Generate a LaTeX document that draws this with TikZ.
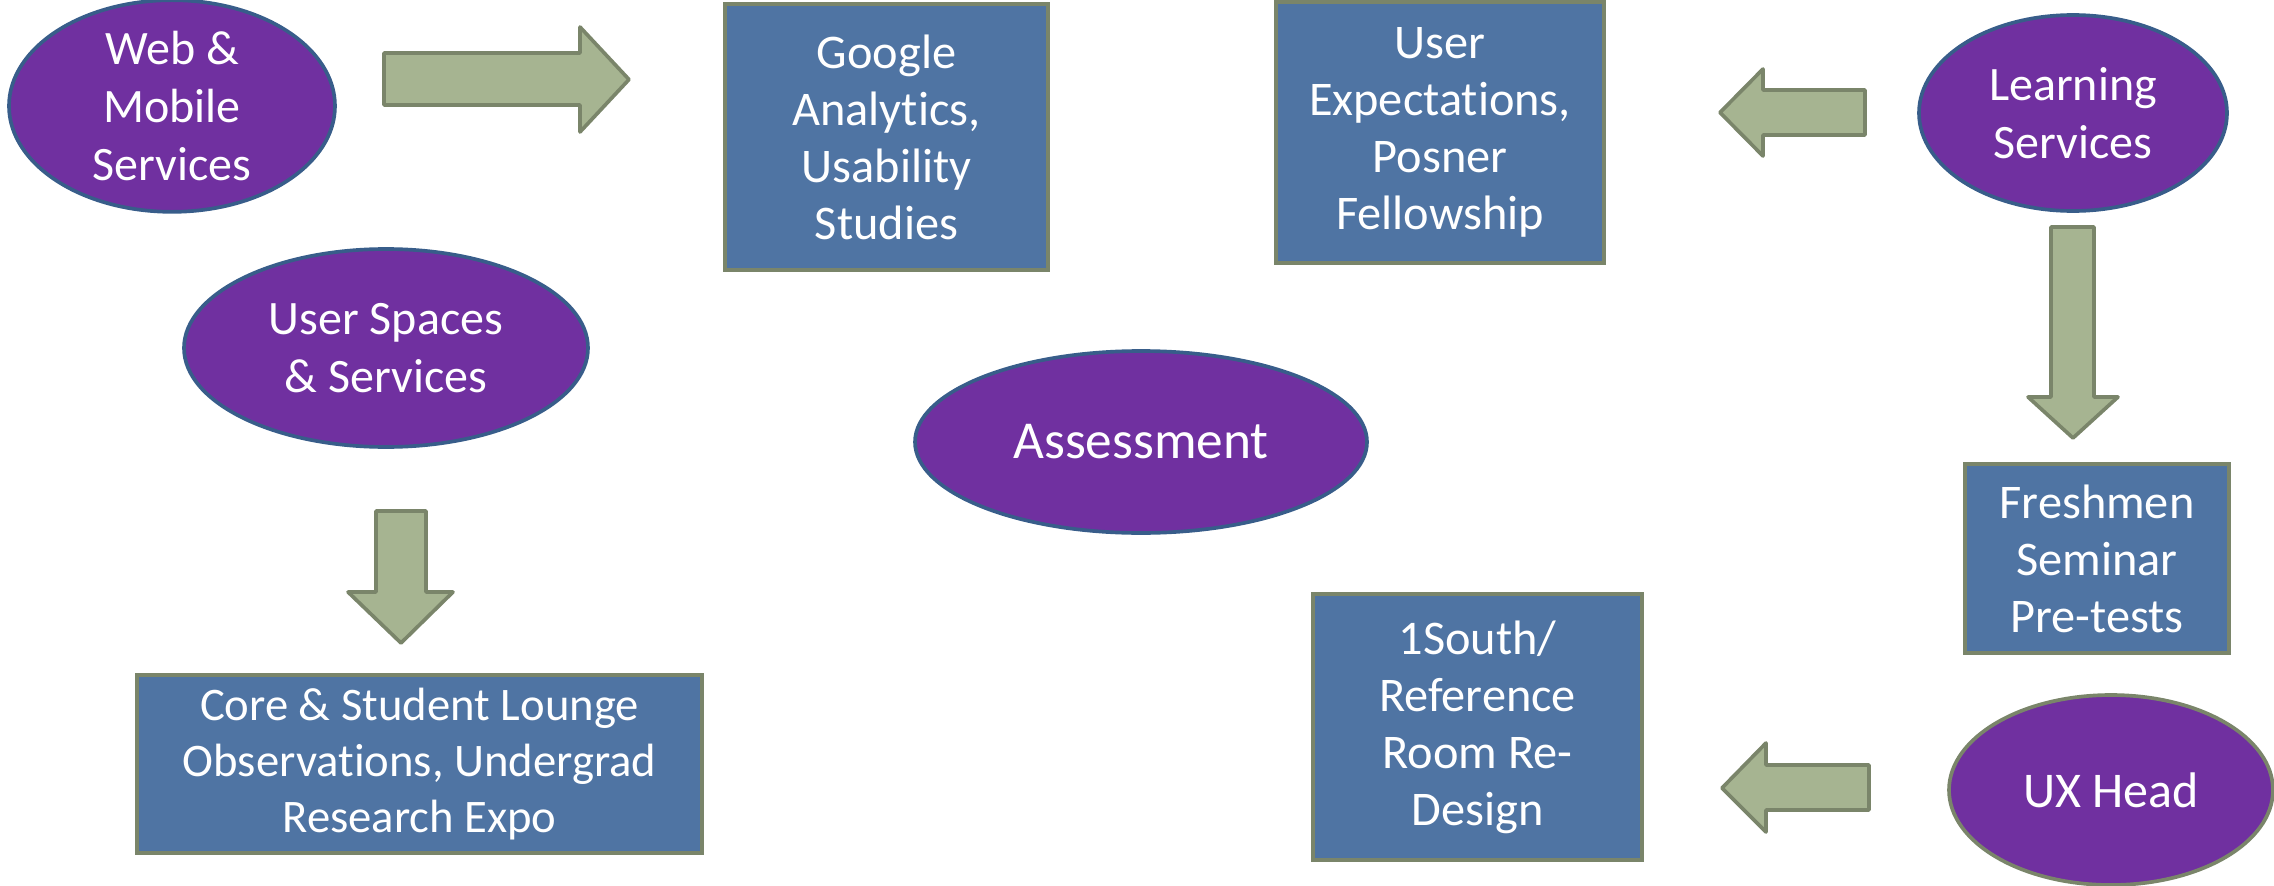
\documentclass[tikz,border=0pt]{standalone}
\usepackage{fontspec}
\setmainfont{Carlito}[Ligatures=NoCommon]
\usetikzlibrary{shapes.geometric}
\definecolor{purp}{RGB}{112,48,160}
\definecolor{ellbord}{RGB}{56,93,138}
\definecolor{boxfill}{RGB}{79,116,163}
\definecolor{grnbord}{RGB}{122,133,106}
\definecolor{arrfill}{RGB}{166,180,145}
\tikzset{
  oval/.style={ellipse, fill=purp, draw=ellbord, line width=1.1pt, inner sep=0pt,
    text=white, align=center, font=\fontsize{14.4}{17.4}\selectfont},
  infobox/.style={rectangle, fill=boxfill, draw=grnbord, line width=1.2pt, inner sep=0pt,
    text=white, align=center, font=\fontsize{14.5}{17.1}\selectfont},
  blockarrow/.style={fill=arrfill, draw=grnbord, line width=1.1pt, line join=round}
}
\begin{document}
\begin{tikzpicture}[x=0.3pt,y=-0.3pt]
\useasboundingbox (0,0) rectangle (2274,886);
% ellipses
\node[oval, minimum width=97.8pt, minimum height=58.8pt] (web) at (172,106) {Web \&\\Mobile\\Services};
\node[oval, minimum width=92.4pt, minimum height=58.8pt] (learn) at (2073,113) {Learning\\Services};
\node[oval, minimum width=121.2pt, minimum height=59.4pt] (uss) at (386,348) {User Spaces\\\& Services};
\node[oval, minimum width=135.6pt, minimum height=54.6pt, font=\fontsize{16}{19}\selectfont] (assess) at (1141,442) {Assessment};
\node[oval, draw=grnbord, minimum width=97.2pt, minimum height=57pt, font=\fontsize{15}{18}\selectfont] (ux) at (2111,790) {UX Head};
% boxes
\node[infobox, minimum width=96.9pt, minimum height=79.8pt] (google) at (886.5,137) {Google\\Analytics,\\Usability\\Studies};
\node[infobox, minimum width=98.4pt, minimum height=78.3pt] (userexp) at (1440,132.5) {User\\Expectations,\\Posner\\Fellowship};
\node[infobox, minimum width=79.2pt, minimum height=56.7pt] (fresh) at (2097,558.5) {Freshmen\\Seminar\\Pre-tests};
\node[infobox, minimum width=169.5pt, minimum height=53.4pt, font=\fontsize{14}{16.8}\selectfont] (core) at (419.5,764) {Core \& Student Lounge\\Observations, Undergrad\\Research Expo};
\node[infobox, minimum width=98.7pt, minimum height=79.8pt] (south) at (1477.5,727) {1South/\\Reference\\Room Re-\\Design};
% block arrows
\draw[blockarrow] (384,53) -- (580,53) -- (580,27) -- (629,79.5) -- (580,132) -- (580,105) -- (384,105) -- cycle;
\draw[blockarrow] (1865,90) -- (1763,90) -- (1763,69) -- (1720,112.5) -- (1763,156) -- (1763,135) -- (1865,135) -- cycle;
\draw[blockarrow] (1869,765) -- (1766,765) -- (1766,743) -- (1722,788) -- (1766,832) -- (1766,810) -- (1869,810) -- cycle;
\draw[blockarrow] (2051,227) -- (2094,227) -- (2094,397) -- (2118,397) -- (2073,438) -- (2028,397) -- (2051,397) -- cycle;
\draw[blockarrow] (376,511) -- (426,511) -- (426,592) -- (453,592) -- (401,643) -- (348,592) -- (376,592) -- cycle;
\end{tikzpicture}
\end{document}
